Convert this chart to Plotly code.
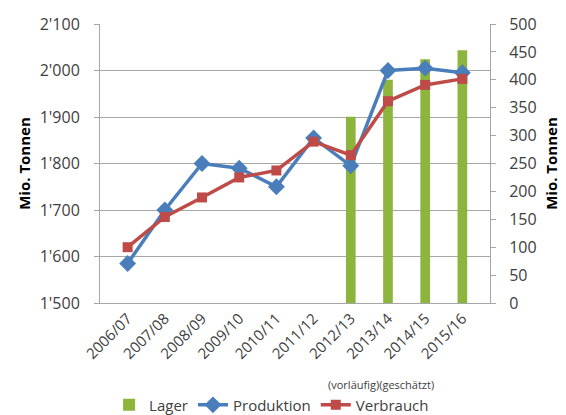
import plotly.graph_objects as go

categories = ["2006/07", "2007/08", "2008/09", "2009/10", "2010/11",
              "2011/12", "2012/13", "2013/14", "2014/15", "2015/16"]
produktion = [1585, 1700, 1800, 1790, 1750, 1855, 1795, 2000, 2005, 1995]
verbrauch = [1620, 1685, 1727, 1770, 1785, 1847, 1818, 1934, 1969, 1982]
lager = [None, None, None, None, None, None, 334, 400, 437, 453]

left_tickvals = [1500, 1600, 1700, 1800, 1900, 2000, 2100]
left_ticktext = ["1'500", "1'600", "1'700", "1'800", "1'900", "2'000", "2'100"]
right_tickvals = [0, 50, 100, 150, 200, 250, 300, 350, 400, 450, 500]

FONT = "Open Sans"
TXT = "#404040"
AX = "#A6A6A6"

fig = go.Figure()
fig.add_trace(go.Bar(
    x=categories, y=lager, name="Lager", yaxis="y",
    marker=dict(color="#8DB43C", line=dict(width=0)),
    width=0.26,
))
fig.add_trace(go.Scatter(
    x=categories, y=produktion, name="Produktion", yaxis="y2",
    mode="lines+markers",
    line=dict(color="#4A7EBB", width=3.5),
    marker=dict(symbol="diamond", size=13, color="#4A7EBB"),
))
fig.add_trace(go.Scatter(
    x=categories, y=verbrauch, name="Verbrauch", yaxis="y2",
    mode="lines+markers",
    line=dict(color="#BE4B48", width=3.5),
    marker=dict(symbol="square", size=10, color="#BE4B48"),
))

fig.update_layout(
    width=566, height=415,
    margin=dict(l=100, r=76, t=24, b=112, autoexpand=False),
    paper_bgcolor="white", plot_bgcolor="white",
    font=dict(family=FONT, size=15, color=TXT),
    showlegend=True,
    legend=dict(orientation="h", x=0.44, xanchor="center", y=-0.366, yanchor="middle",
                font=dict(size=15, color=TXT), itemwidth=30, tracegroupgap=0,
                traceorder="normal"),
    xaxis=dict(
        type="category", tickangle=-45, showgrid=False,
        showline=True, linecolor=AX, linewidth=1, ticks="",
        tickfont=dict(size=15, color=TXT),
    ),
    yaxis=dict(
        side="right", range=[0, 500], tickvals=right_tickvals,
        showgrid=False, zeroline=False, showline=True, linecolor=AX,
        ticks="outside", ticklen=5, tickcolor=AX, ticklabelstandoff=10,
        title=dict(text="<b>Mio. Tonnen</b>", font=dict(size=15, color="#000000"), standoff=10),
        tickfont=dict(size=16, color=TXT),
    ),
    yaxis2=dict(
        overlaying="y", side="left", range=[1500, 2100],
        tickvals=left_tickvals, ticktext=left_ticktext,
        showgrid=True, gridcolor="#A6A6A6", gridwidth=1, zeroline=False,
        showline=True, linecolor=AX, ticks="outside", ticklen=5, tickcolor=AX,
        ticklabelstandoff=11,
        title=dict(text="<b>Mio. Tonnen</b>", font=dict(size=15, color="#000000"), standoff=5),
        tickfont=dict(size=16, color=TXT),
    ),
    annotations=[dict(
        text="(vorläufig)(geschätzt)", xref="paper", yref="paper",
        x=0.72, y=-0.292, xanchor="center", yanchor="middle", showarrow=False,
        font=dict(size=11, color=TXT),
    )],
)

fig.write_html("out.html")
